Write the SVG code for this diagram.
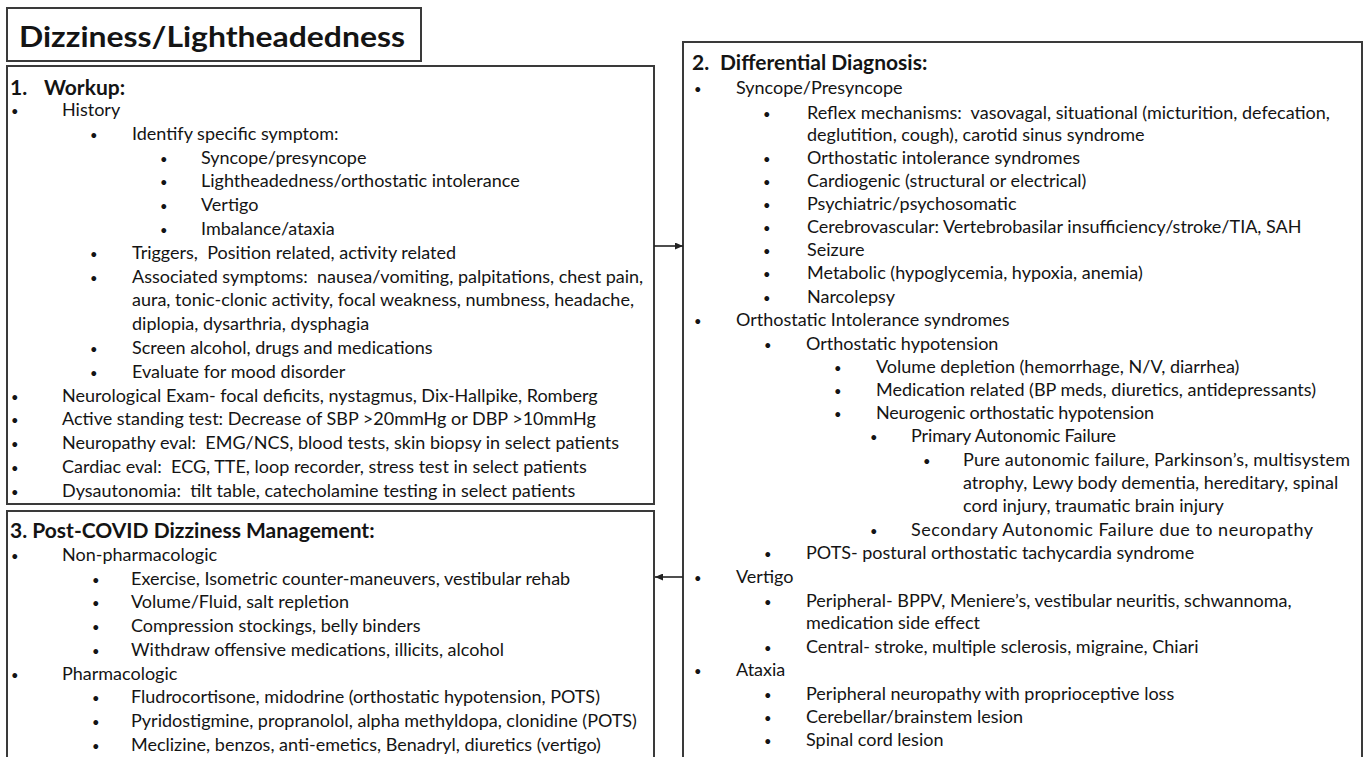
<svg xmlns="http://www.w3.org/2000/svg" width="1370" height="757" viewBox="0 0 1370 757">
  <style>
    text { font-family: Lato, "Liberation Sans", sans-serif; font-size: 18px; fill: #141414; white-space: pre; }
    .b { font-size: 13px; }
    .hd { font-weight: bold; font-size: 21px; }
    .title { font-weight: bold; font-size: 29px; }
    .box { fill: #ffffff; stroke: #3a3a3a; stroke-width: 2; }
    .conn { stroke: #222222; stroke-width: 1.6; fill: none; }
  </style>
  <defs>
    <marker id="arrow" markerUnits="userSpaceOnUse" markerWidth="8" markerHeight="7" refX="8" refY="3.5" orient="auto">
      <path d="M0,0 L8,3.5 L0,7 z" fill="#222222"/>
    </marker>
  </defs>

  <rect width="1370" height="757" fill="#ffffff"/>

  <!-- title -->
  <g id="title">
    <rect class="box" x="7" y="8" width="414" height="53"/>
    <text class="title" x="19" y="47" textLength="386" lengthAdjust="spacingAndGlyphs">Dizziness/Lightheadedness</text>
  </g>

  <!-- 1. workup -->
  <g id="workup">
    <rect class="box" x="7" y="66" width="647" height="438"/>
    <text class="hd" y="95"><tspan x="10">1.</tspan><tspan x="44">Workup:</tspan></text>
    <text class="b" x="11" y="116">•</text><text x="62" y="116">History</text>
    <text class="b" x="90" y="139.8">•</text><text x="132" y="139.8">Identify specific symptom:</text>
    <text class="b" x="160" y="163.6">•</text><text x="201" y="163.6">Syncope/presyncope</text>
    <text class="b" x="160" y="187.4">•</text><text x="201" y="187.4">Lightheadedness/orthostatic intolerance</text>
    <text class="b" x="160" y="211.2">•</text><text x="201" y="211.2">Vertigo</text>
    <text class="b" x="160" y="235">•</text><text x="201" y="235">Imbalance/ataxia</text>
    <text class="b" x="90" y="258.8">•</text><text x="132" y="258.8">Triggers,  Position related, activity related</text>
    <text class="b" x="90" y="282.6">•</text><text x="132" y="282.6">Associated symptoms:  nausea/vomiting, palpitations, chest pain,</text>
    <text x="132" y="306.4">aura, tonic-clonic activity, focal weakness, numbness, headache,</text>
    <text x="132" y="330.2">diplopia, dysarthria, dysphagia</text>
    <text class="b" x="90" y="354">•</text><text x="132" y="354">Screen alcohol, drugs and medications</text>
    <text class="b" x="90" y="377.8">•</text><text x="132" y="377.8">Evaluate for mood disorder</text>
    <text class="b" x="11" y="401.6">•</text><text x="62" y="401.6">Neurological Exam- focal deficits, nystagmus, Dix-Hallpike, Romberg</text>
    <text class="b" x="11" y="425.4">•</text><text x="62" y="425.4">Active standing test: Decrease of SBP &gt;20mmHg or DBP &gt;10mmHg</text>
    <text class="b" x="11" y="449.2">•</text><text x="62" y="449.2">Neuropathy eval:  EMG/NCS, blood tests, skin biopsy in select patients</text>
    <text class="b" x="11" y="473">•</text><text x="62" y="473">Cardiac eval:  ECG, TTE, loop recorder, stress test in select patients</text>
    <text class="b" x="11" y="496.8">•</text><text x="62" y="496.8">Dysautonomia:  tilt table, catecholamine testing in select patients</text>
  </g>

  <!-- 3. management -->
  <g id="management">
    <rect class="box" x="7" y="511" width="647" height="260"/>
    <text class="hd" x="10" y="538">3. Post-COVID Dizziness Management:</text>
    <text class="b" x="11" y="561">•</text><text x="62" y="561">Non-pharmacologic</text>
    <text class="b" x="92" y="584.7">•</text><text x="131" y="584.7">Exercise, Isometric counter-maneuvers, vestibular rehab</text>
    <text class="b" x="92" y="608.4">•</text><text x="131" y="608.4">Volume/Fluid, salt repletion</text>
    <text class="b" x="92" y="632.1">•</text><text x="131" y="632.1">Compression stockings, belly binders</text>
    <text class="b" x="92" y="655.8">•</text><text x="131" y="655.8">Withdraw offensive medications, illicits, alcohol</text>
    <text class="b" x="11" y="679.5">•</text><text x="62" y="679.5">Pharmacologic</text>
    <text class="b" x="92" y="703.2">•</text><text x="131" y="703.2">Fludrocortisone, midodrine (orthostatic hypotension, POTS)</text>
    <text class="b" x="92" y="726.9">•</text><text x="131" y="726.9">Pyridostigmine, propranolol, alpha methyldopa, clonidine (POTS)</text>
    <text class="b" x="92" y="750.6">•</text><text x="131" y="750.6">Meclizine, benzos, anti-emetics, Benadryl, diuretics (vertigo)</text>
  </g>

  <!-- 2. differential diagnosis -->
  <g id="differential">
    <rect class="box" x="683" y="42" width="679" height="730"/>
    <text class="hd" y="70"><tspan x="692">2.</tspan><tspan x="720">Differential Diagnosis:</tspan></text>
    <text class="b" x="694" y="94">•</text><text x="736" y="94">Syncope/Presyncope</text>
    <text class="b" x="763" y="119">•</text><text x="807" y="119">Reflex mechanisms:  vasovagal, situational (micturition, defecation,</text>
    <text x="807" y="141">deglutition, cough), carotid sinus syndrome</text>
    <text class="b" x="763" y="164">•</text><text x="807" y="164">Orthostatic intolerance syndromes</text>
    <text class="b" x="763" y="187">•</text><text x="807" y="187">Cardiogenic (structural or electrical)</text>
    <text class="b" x="763" y="210">•</text><text x="807" y="210">Psychiatric/psychosomatic</text>
    <text class="b" x="763" y="233">•</text><text x="807" y="233">Cerebrovascular: Vertebrobasilar insufficiency/stroke/TIA, SAH</text>
    <text class="b" x="763" y="256">•</text><text x="807" y="256">Seizure</text>
    <text class="b" x="763" y="279">•</text><text x="807" y="279">Metabolic (hypoglycemia, hypoxia, anemia)</text>
    <text class="b" x="763" y="303">•</text><text x="807" y="303">Narcolepsy</text>
    <text class="b" x="694" y="326">•</text><text x="736" y="326">Orthostatic Intolerance syndromes</text>
    <text class="b" x="764" y="350">•</text><text x="806" y="350">Orthostatic hypotension</text>
    <text class="b" x="834" y="373">•</text><text x="876" y="373">Volume depletion (hemorrhage, N/V, diarrhea)</text>
    <text class="b" x="834" y="396">•</text><text x="876" y="396">Medication related (BP meds, diuretics, antidepressants)</text>
    <text class="b" x="834" y="419">•</text><text x="876" y="419" textLength="278" lengthAdjust="spacing">Neurogenic orthostatic hypotension</text>
    <text class="b" x="870" y="442">•</text><text x="911" y="442" textLength="205" lengthAdjust="spacing">Primary Autonomic Failure</text>
    <text class="b" x="923" y="466">•</text><text x="963" y="466" textLength="387" lengthAdjust="spacing">Pure autonomic failure, Parkinson’s, multisystem</text>
    <text x="963" y="489">atrophy, Lewy body dementia, hereditary, spinal</text>
    <text x="963" y="512">cord injury, traumatic brain injury</text>
    <text class="b" x="870" y="536">•</text><text x="911" y="536" textLength="402" lengthAdjust="spacing">Secondary Autonomic Failure due to neuropathy</text>
    <text class="b" x="764" y="559">•</text><text x="806" y="559">POTS- postural orthostatic tachycardia syndrome</text>
    <text class="b" x="694" y="583">•</text><text x="736" y="583">Vertigo</text>
    <text class="b" x="764" y="607">•</text><text x="806" y="607">Peripheral- BPPV, Meniere’s, vestibular neuritis, schwannoma,</text>
    <text x="806" y="629">medication side effect</text>
    <text class="b" x="764" y="653">•</text><text x="806" y="653">Central- stroke, multiple sclerosis, migraine, Chiari</text>
    <text class="b" x="694" y="676">•</text><text x="736" y="676">Ataxia</text>
    <text class="b" x="764" y="700">•</text><text x="806" y="700">Peripheral neuropathy with proprioceptive loss</text>
    <text class="b" x="764" y="723">•</text><text x="806" y="723">Cerebellar/brainstem lesion</text>
    <text class="b" x="764" y="746">•</text><text x="806" y="746">Spinal cord lesion</text>
  </g>

  <!-- connectors -->
  <g id="connectors">
    <line class="conn" x1="654" y1="246" x2="683" y2="246" marker-end="url(#arrow)"/>
    <line class="conn" x1="683" y1="577" x2="655" y2="577" marker-end="url(#arrow)"/>
  </g>
</svg>
